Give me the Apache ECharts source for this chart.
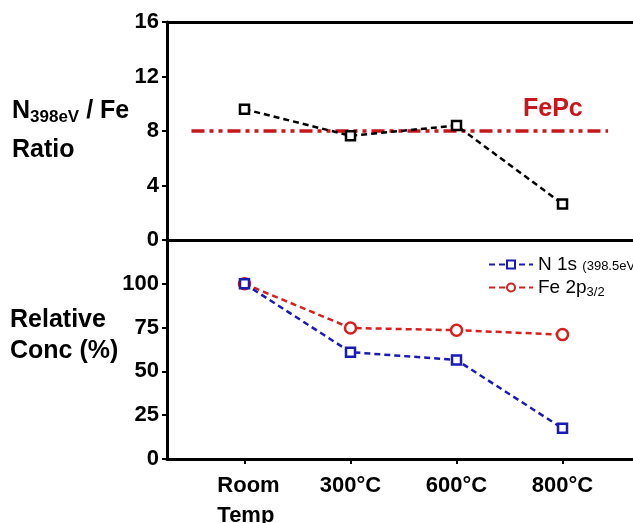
<!DOCTYPE html>
<html><head><meta charset="utf-8">
<script src="https://cdn.jsdelivr.net/npm/echarts@6/dist/echarts.min.js"></script>
<style>html,body{margin:0;padding:0;background:#fff}#c{width:633px;height:523px}</style>
</head><body><div id="c"></div>
<script>
const categories = ['Room\nTemp', '300°C', '600°C', '800°C'];
const catPos = [1, 2, 3, 4];
const ratioValues = [9.6, 7.65, 8.4, 2.65];
const fepcRatio = 8;
const n1sValues = [100, 61, 56.5, 17.5];
const fe2pValues = [100, 74.8, 73.5, 71];
const ratioTicks = [0, 4, 8, 12, 16];
const concTicks = [0, 25, 50, 75, 100];

const FONT = '"Liberation Sans", Arial, sans-serif';
const pair = (vals) => vals.map((v, i) => [catPos[i], v]);

const chart = echarts.init(document.getElementById('c'), null, {renderer: 'canvas'});
const xMin = 0.269, xMax = 4.797;
const axisLine = {show: true, lineStyle: {color: '#000', width: 3}};
const tickStyle = {show: true, inside: false, length: 5, lineStyle: {color: '#000', width: 2}};

chart.setOption({
  animation: false,
  backgroundColor: '#fff',
  grid: [
    {left: 167, top: 22, width: 480, height: 218, outerBoundsMode: 'none', containLabel: false},
    {left: 167, top: 240, width: 480, height: 219, outerBoundsMode: 'none', containLabel: false}
  ],
  xAxis: [
    {type: 'value', gridIndex: 0, min: xMin, max: xMax, axisLine: axisLine, axisTick: {show: false},
     axisLabel: {show: false}, splitLine: {show: false}},
    {type: 'value', gridIndex: 0, position: 'top', min: xMin, max: xMax, axisLine: axisLine, axisTick: {show: false},
     axisLabel: {show: false}, splitLine: {show: false}},
    {type: 'value', gridIndex: 1, min: xMin, max: xMax, axisLine: axisLine,
     axisTick: Object.assign({}, tickStyle, {customValues: catPos}),
     axisLabel: {customValues: catPos,
       formatter: (v) => {
         const t = categories[catPos.indexOf(v)] || '';
         return t.indexOf('\n') >= 0 ? t.split('\n').map(s => '{r|' + s + '}').join('\n') : t;
       },
       fontFamily: FONT, fontWeight: 'bold', fontSize: 22, color: '#000', margin: 12, lineHeight: 30,
       rich: {r: {fontFamily: FONT, fontWeight: 'bold', fontSize: 22, color: '#000', align: 'left', padding: [0, 0, 0, 8]}}},
     splitLine: {show: false}}
  ],
  yAxis: [
    {type: 'value', gridIndex: 0, min: 0, max: 16, interval: 4, axisLine: axisLine,
     axisTick: Object.assign({}, tickStyle, {customValues: ratioTicks}),
     axisLabel: {customValues: ratioTicks, fontFamily: FONT, fontWeight: 'bold', fontSize: 22, color: '#000', margin: 8},
     splitLine: {show: false}},
    {type: 'value', gridIndex: 1, min: 0, max: 125, axisLine: axisLine,
     axisTick: Object.assign({}, tickStyle, {customValues: concTicks}),
     axisLabel: {customValues: concTicks, fontFamily: FONT, fontWeight: 'bold', fontSize: 22, color: '#000', margin: 8},
     splitLine: {show: false}}
  ],
  legend: {
    left: 483, top: 250, orient: 'vertical', itemGap: 4, itemWidth: 44, itemHeight: 10,
    data: ['N 1s', 'Fe 2p'],
    formatter: (name) => name === 'N 1s' ? 'N 1s {s|(398.5eV)}' : 'Fe 2p{sub|3/2}',
    textStyle: {fontFamily: FONT, fontSize: 19, color: '#000',
      rich: {s: {fontSize: 13, fontFamily: FONT, color: '#000', padding: [3, 0, 0, 0]},
             sub: {fontSize: 13, fontFamily: FONT, color: '#000', padding: [9, 0, 0, 0]}}}
  },
  graphic: [
    {type: 'text', left: 12, top: 92, style: {
      text: '{b|N}{sub|398eV}{b| / Fe}\n{b|Ratio}', fontFamily: FONT, lineHeight: 39,
      rich: {b: {fontFamily: FONT, fontWeight: 'bold', fontSize: 25, fill: '#000'},
             sub: {fontFamily: FONT, fontWeight: 'bold', fontSize: 17, fill: '#000', padding: [11, 0, 0, 0]}}}},
    {type: 'text', left: 10, top: 305, style: {
      text: 'Relative\nConc (%)', fontFamily: FONT, fontWeight: 'bold', fontSize: 25, lineHeight: 31, fill: '#000'}},
    {type: 'text', left: 523, top: 97, style: {
      text: 'FePc', fontFamily: FONT, fontWeight: 'bold', fontSize: 25, fill: '#c8161d'}}
  ],
  series: [
    {type: 'line', name: 'ratio', xAxisIndex: 0, yAxisIndex: 0, data: pair(ratioValues),
     symbol: 'rect', symbolSize: 9, showSymbol: true,
     itemStyle: {color: '#fff', borderColor: '#000', borderWidth: 2.5},
     lineStyle: {color: '#000', width: 2.5, type: [6, 4]}, z: 5,
     markLine: {silent: true, symbol: 'none', label: {show: false},
       lineStyle: {color: '#c8161d', width: 3.5, type: [13, 5, 4, 5, 4, 5]},
       data: [[{coord: [0.5, fepcRatio]}, {coord: [4.43, fepcRatio]}]]}},
    {type: 'line', name: 'N 1s', xAxisIndex: 2, yAxisIndex: 1, data: pair(n1sValues),
     symbol: 'rect', symbolSize: 9,
     itemStyle: {color: '#fff', borderColor: '#1a1ab4', borderWidth: 2.5},
     lineStyle: {color: '#1a1ab4', width: 2.5, type: [6, 4]}, z: 4},
    {type: 'line', name: 'Fe 2p', xAxisIndex: 2, yAxisIndex: 1, data: pair(fe2pValues),
     symbol: 'circle', symbolSize: 11,
     itemStyle: {color: '#fff', borderColor: '#d42020', borderWidth: 2.5},
     lineStyle: {color: '#d42020', width: 2.5, type: [6, 4]}, z: 3}
  ]
});
</script></body></html>
